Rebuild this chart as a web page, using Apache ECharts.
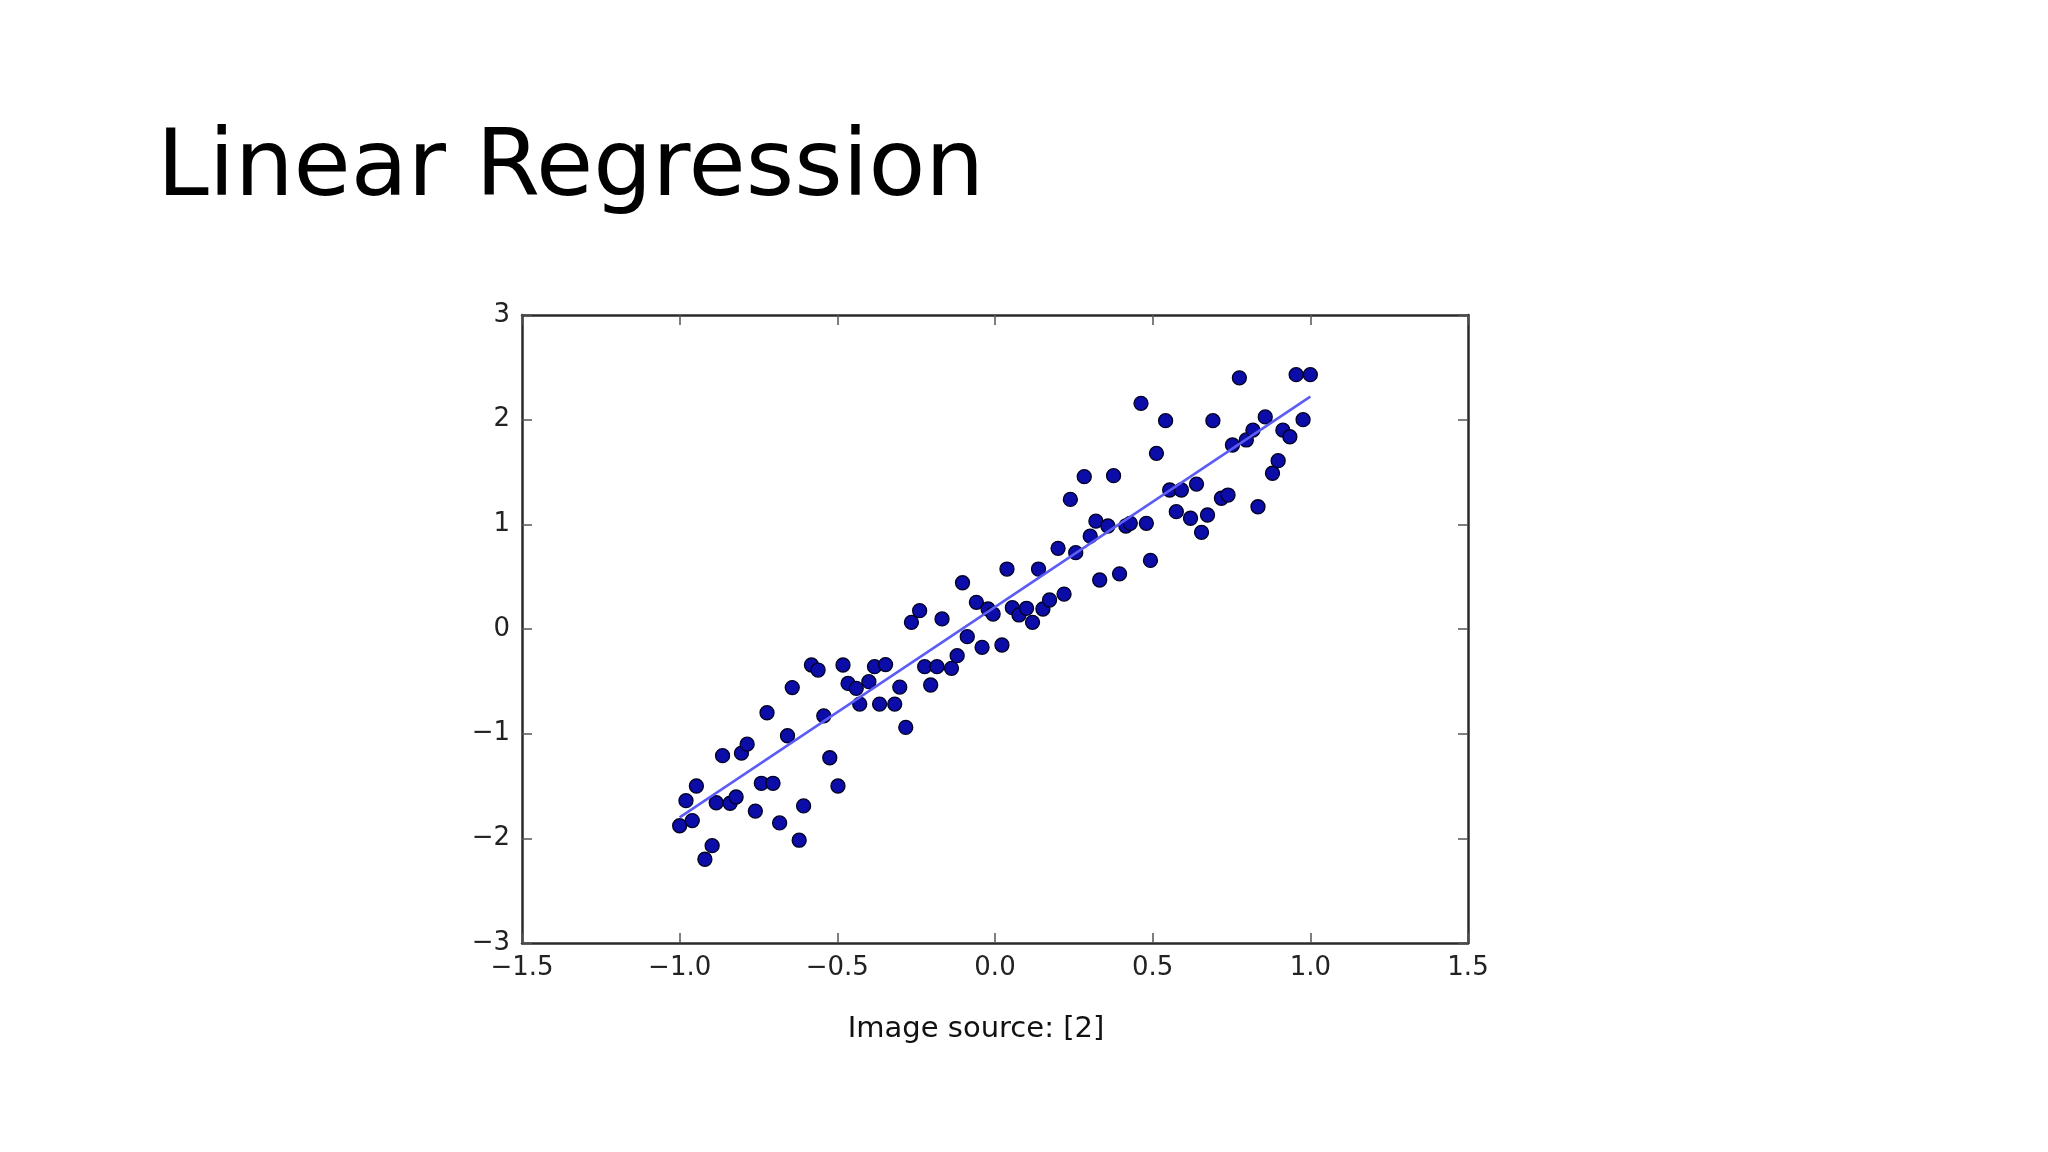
<!DOCTYPE html>
<html><head><meta charset="utf-8">
<script src="https://cdn.jsdelivr.net/npm/echarts@6/dist/echarts.min.js"></script>
<style>html,body{margin:0;padding:0;background:#fff}#c{width:2048px;height:1152px}</style>
</head><body><div id="c"></div>
<script>
const titleText = 'Linear Regression';
const captionText = 'Image source: [2]';
const xTicks = [-1.5, -1.0, -0.5, 0.0, 0.5, 1.0, 1.5];
const yTicks = [-3, -2, -1, 0, 1, 2, 3];
const pointX = [-1.00,-0.96,-0.98,-0.947,-0.92,-0.897,-0.884,-0.864,-0.840,-0.821,-0.804,-0.786,-0.760,-0.741,-0.704,-0.723,-0.683,-0.658,-0.643,-0.621,-0.607,-0.582,-0.561,-0.543,-0.524,-0.498,-0.482,-0.466,-0.440,-0.429,-0.400,-0.382,-0.347,-0.366,-0.318,-0.302,-0.283,-0.265,-0.239,-0.223,-0.204,-0.184,-0.168,-0.138,-0.120,-0.103,-0.088,-0.059,-0.041,-0.022,-0.006,0.022,0.038,0.055,0.076,0.100,0.119,0.138,0.152,0.173,0.200,0.219,0.239,0.256,0.283,0.302,0.320,0.332,0.358,0.376,0.395,0.415,0.429,0.463,0.480,0.493,0.512,0.541,0.554,0.575,0.591,0.620,0.639,0.655,0.674,0.691,0.718,0.739,0.753,0.775,0.797,0.818,0.834,0.857,0.880,0.898,0.913,0.935,0.955,0.977,1.000];
const pointY = [-1.88,-1.83,-1.64,-1.50,-2.20,-2.07,-1.66,-1.21,-1.665,-1.605,-1.186,-1.10,-1.74,-1.474,-1.474,-0.80,-1.853,-1.02,-0.56,-2.018,-1.69,-0.344,-0.392,-0.83,-1.23,-1.50,-0.344,-0.52,-0.567,-0.717,-0.503,-0.36,-0.34,-0.717,-0.717,-0.555,-0.94,0.064,0.175,-0.36,-0.535,-0.36,0.096,-0.376,-0.255,0.442,-0.073,0.255,-0.175,0.191,0.143,-0.153,0.573,0.204,0.134,0.198,0.064,0.573,0.191,0.277,0.771,0.334,1.238,0.729,1.455,0.887,1.03,0.468,0.984,1.465,0.527,0.984,1.01,2.156,1.01,0.655,1.678,1.99,1.328,1.121,1.328,1.058,1.385,0.924,1.089,1.99,1.249,1.28,1.758,2.40,1.806,1.90,1.168,2.026,1.488,1.608,1.90,1.837,2.43,2.0,2.43];
const fitX = [-1.0, 1.0];
const fitY = [-1.80, 2.22];

const chart = echarts.init(document.getElementById('c'), null, {renderer: 'canvas'});
const FONT = '"DejaVu Sans", "Noto Sans", sans-serif';
const fmtX = v => v.toFixed(1).replace('-', '\u2212');
const fmtY = v => String(Math.round(v)).replace('-', '\u2212');

function axisBase(ticks, pos, showLabel, fmt) {
  return {
    type: 'value', position: pos,
    min: ticks[0], max: ticks[ticks.length - 1], interval: ticks[1] - ticks[0],
    axisLine: {show: true, onZero: false, lineStyle: {color: '#2a2a2a', width: 2.5}},
    axisTick: {show: true, inside: true, length: 10, lineStyle: {color: '#555', width: 1.5}},
    splitLine: {show: false},
    axisLabel: {show: showLabel, formatter: fmt, fontFamily: FONT, fontSize: 26, color: '#222', margin: 12}
  };
}

chart.setOption({
  backgroundColor: '#ffffff',
  animation: false,
  grid: {left: 522, top: 315, width: 946, height: 628, containLabel: false},
  xAxis: [axisBase(xTicks, 'bottom', true, fmtX), axisBase(xTicks, 'top', false, fmtX)],
  yAxis: [axisBase(yTicks, 'left', true, fmtY), axisBase(yTicks, 'right', false, fmtY)],
  graphic: [
    {type: 'text', x: 157, y: 171, style: {text: titleText, font: '93px ' + FONT, fill: '#000', textAlign: 'left', textVerticalAlign: 'middle', verticalAlign: 'middle'}},
    {type: 'text', x: 976, y: 1029, style: {text: captionText, font: '29px ' + FONT, fill: '#111', textAlign: 'center', textVerticalAlign: 'middle', verticalAlign: 'middle'}}
  ],
  series: [
    {
      type: 'line', xAxisIndex: 0, yAxisIndex: 0,
      data: fitX.map((x, i) => [x, fitY[i]]),
      showSymbol: false, symbol: 'none',
      lineStyle: {color: '#5c5cf4', width: 2.5}, z: 3
    },
    {
      type: 'scatter', xAxisIndex: 0, yAxisIndex: 0,
      data: pointX.map((x, i) => [x, pointY[i]]),
      symbol: 'circle', symbolSize: 14,
      itemStyle: {color: '#0c0ca8', borderColor: '#000022', borderWidth: 1.3, opacity: 1}, z: 2
    }
  ]
});
</script>
</body></html>
